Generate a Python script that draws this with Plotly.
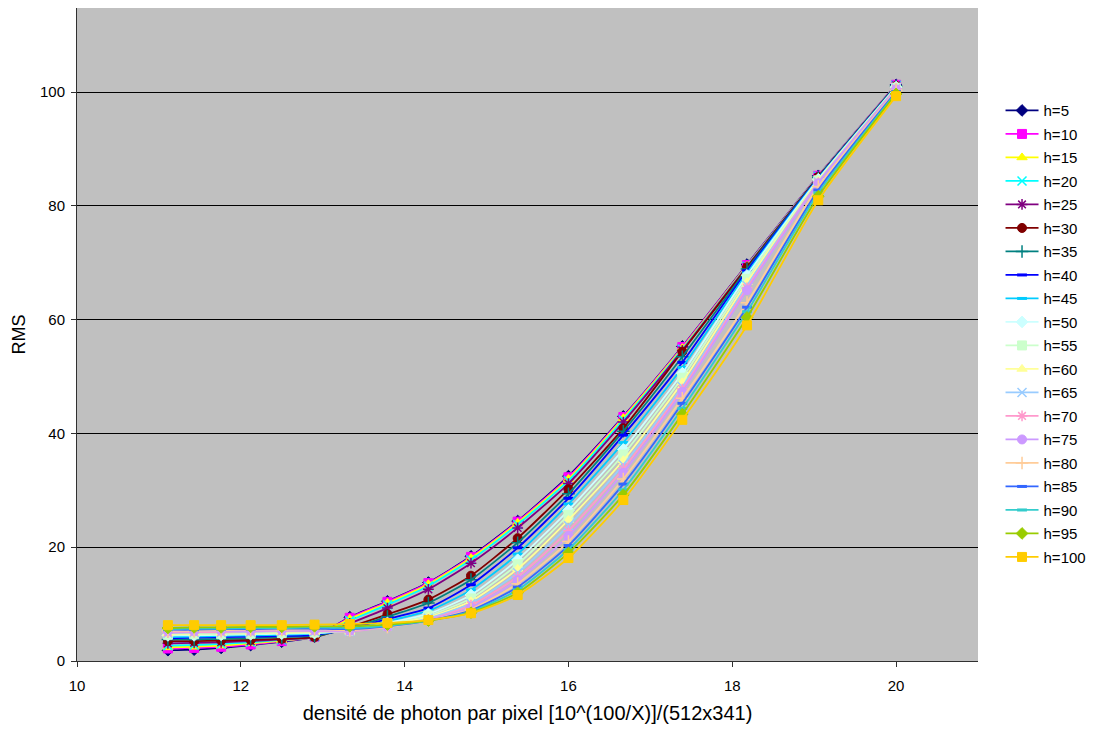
import plotly.graph_objects as go

# x positions: 100/X for X = 9 ... 5
x_density = [11.11, 11.43, 11.76, 12.12, 12.5, 12.9, 13.33, 13.79, 14.29, 14.81,
             15.38, 16.0, 16.67, 17.39, 18.18, 19.05, 20.0]

h5 = [1.9, 2.0, 2.3, 2.8, 3.4, 4.3, 7.7, 10.5, 13.8, 18.4, 24.6, 32.5, 43.0, 55.3, 69.7, 85.3, 101.3]
h10 = [2.2, 2.3, 2.5, 2.9, 3.5, 4.3, 7.6, 10.4, 13.7, 18.3, 24.5, 32.3, 42.9, 55.2, 69.6, 85.3, 101.3]
h15 = [2.4, 2.5, 2.7, 3.1, 3.6, 4.3, 7.4, 10.2, 13.5, 18.1, 24.3, 32.0, 42.7, 55.0, 69.5, 85.2, 101.2]
h20 = [2.7, 2.8, 3.0, 3.3, 3.7, 4.3, 7.1, 9.9, 13.2, 17.8, 24.0, 31.7, 42.4, 54.8, 69.4, 85.2, 101.2]
h25 = [3.1, 3.2, 3.3, 3.5, 3.8, 4.2, 6.6, 9.3, 12.6, 17.2, 23.4, 31.2, 42.0, 54.6, 69.3, 85.1, 101.2]
h30 = [3.5, 3.5, 3.6, 3.7, 3.9, 4.2, 6.0, 8.2, 10.8, 15.0, 21.6, 30.2, 40.9, 54.4, 69.2, 85.1, 101.1]
h35 = [3.8, 3.8, 3.9, 4.0, 4.2, 4.4, 5.8, 7.8, 10.2, 14.3, 20.8, 29.4, 40.4, 53.5, 68.9, 85.0, 101.1]
h40 = [4.0, 4.1, 4.2, 4.3, 4.4, 4.6, 5.6, 7.4, 9.3, 13.4, 19.9, 28.6, 39.7, 52.5, 68.6, 84.9, 101.0]
h45 = [4.2, 4.3, 4.4, 4.5, 4.6, 4.8, 5.5, 7.0, 8.8, 12.5, 18.8, 27.6, 38.4, 51.6, 68.2, 84.8, 101.0]
h50 = [4.5, 4.5, 4.6, 4.7, 4.8, 4.9, 5.4, 6.7, 8.3, 11.6, 17.8, 26.5, 37.2, 50.6, 67.8, 84.7, 100.9]
h55 = [4.6, 4.7, 4.7, 4.8, 4.9, 5.0, 5.3, 6.5, 8.0, 11.0, 17.0, 25.7, 36.3, 49.8, 67.2, 84.5, 100.8]
h60 = [4.8, 4.8, 4.9, 5.0, 5.0, 5.1, 5.3, 6.3, 7.7, 10.5, 16.2, 24.8, 35.3, 49.0, 66.6, 84.4, 100.8]
h65 = [4.9, 5.0, 5.0, 5.1, 5.2, 5.2, 5.2, 6.1, 7.5, 10.1, 15.5, 23.8, 34.5, 48.2, 66.0, 84.2, 100.7]
h70 = [5.0, 5.1, 5.1, 5.2, 5.3, 5.3, 5.2, 6.0, 7.3, 9.8, 14.8, 22.9, 33.8, 47.8, 65.6, 84.1, 100.6]
h75 = [5.2, 5.2, 5.3, 5.3, 5.4, 5.4, 5.3, 6.0, 7.2, 9.4, 14.2, 22.0, 33.1, 47.3, 65.2, 84.0, 100.5]
h80 = [5.3, 5.3, 5.4, 5.5, 5.5, 5.6, 5.4, 6.0, 7.1, 9.1, 13.6, 21.0, 32.0, 46.2, 63.0, 83.4, 100.3]
h85 = [5.5, 5.5, 5.6, 5.6, 5.7, 5.7, 5.6, 6.1, 7.1, 8.9, 13.0, 20.3, 31.1, 45.3, 62.2, 82.8, 100.1]
h90 = [5.6, 5.7, 5.7, 5.8, 5.8, 5.9, 5.8, 6.2, 7.1, 8.7, 12.5, 19.6, 30.1, 44.4, 61.4, 82.3, 99.9]
h95 = [5.8, 5.9, 5.9, 6.0, 6.0, 6.1, 6.1, 6.4, 7.1, 8.5, 12.0, 19.0, 29.2, 43.4, 60.4, 81.7, 99.7]
h100 = [6.3, 6.3, 6.3, 6.3, 6.3, 6.4, 6.5, 6.7, 7.2, 8.4, 11.6, 18.1, 28.3, 42.4, 59.0, 81.0, 99.3]

series_names = ["h=5", "h=10", "h=15", "h=20", "h=25", "h=30", "h=35", "h=40", "h=45", "h=50",
                "h=55", "h=60", "h=65", "h=70", "h=75", "h=80", "h=85", "h=90", "h=95", "h=100"]
series_values = [h5, h10, h15, h20, h25, h30, h35, h40, h45, h50,
                 h55, h60, h65, h70, h75, h80, h85, h90, h95, h100]

colors = ["#000080", "#FF00FF", "#FFFF00", "#00FFFF", "#800080", "#800000", "#008080", "#0000FF",
          "#00CCFF", "#CCFFFF", "#CCFFCC", "#FFFF99", "#99CCFF", "#FF99CC", "#CC99FF", "#FFCC99",
          "#3366FF", "#33CCCC", "#99CC00", "#FFCC00"]
symbols = ["diamond", "square", "triangle-up", "x-thin-open", "asterisk-open", "circle",
           "cross-thin-open", "line-ew-open", "line-ew-open", "diamond", "square", "triangle-up",
           "x-thin-open", "asterisk-open", "circle", "cross-thin-open", "line-ew-open",
           "line-ew-open", "diamond", "square"]

FONT = "Liberation Sans, Arial, sans-serif"

fig = go.Figure()
for name, vals, col, sym in zip(series_names, series_values, colors, symbols):
    if sym.startswith("line-ew"):
        mk = dict(symbol=sym, size=7, color=col, line=dict(color=col, width=3))
    elif sym.endswith("-open"):
        mk = dict(symbol=sym, size=9, color=col, line=dict(color=col, width=1.5))
    else:
        mk = dict(symbol=sym, size=9, color=col, line=dict(color=col, width=1))
    fig.add_trace(go.Scatter(
        x=x_density, y=vals, name=name, mode="lines+markers",
        line=dict(color=col, width=1.8, shape="spline", smoothing=0.6),
        marker=mk, legendgroup=name,
    ))

fig.update_layout(
    width=1096, height=730,
    margin=dict(l=69, r=126, t=0, b=77),
    paper_bgcolor="white",
    plot_bgcolor="#C0C0C0",
    font=dict(family=FONT, size=15, color="black"),
    legend=dict(x=1.025, y=0.868, xanchor="left", yanchor="top",
                font=dict(family=FONT, size=15, color="black"),
                bgcolor="rgba(0,0,0,0)", tracegroupgap=1.0, itemwidth=33),
    showlegend=True,
)
fig.update_xaxes(
    range=[10, 21], tickvals=[10, 12, 14, 16, 18, 20], showgrid=False, zeroline=False,
    showline=True, linecolor="#303030", linewidth=1, ticks="outside", ticklen=5,
    tickcolor="#303030", tickfont=dict(size=15), ticklabelstandoff=6,
    title=dict(text="densité de photon par pixel [10^(100/X)]/(512x341)", font=dict(size=20), standoff=12),
)
fig.update_yaxes(
    range=[0, 114.8], tickvals=[0, 20, 40, 60, 80, 100], showgrid=True, gridcolor="black",
    gridwidth=1, zeroline=False, showline=True, linecolor="#303030", linewidth=1,
    ticks="outside", ticklen=5, tickcolor="#303030", tickfont=dict(size=15), ticklabelstandoff=3,
    title=dict(text="RMS", font=dict(size=18), standoff=9),
)

fig.write_html("out.html")
